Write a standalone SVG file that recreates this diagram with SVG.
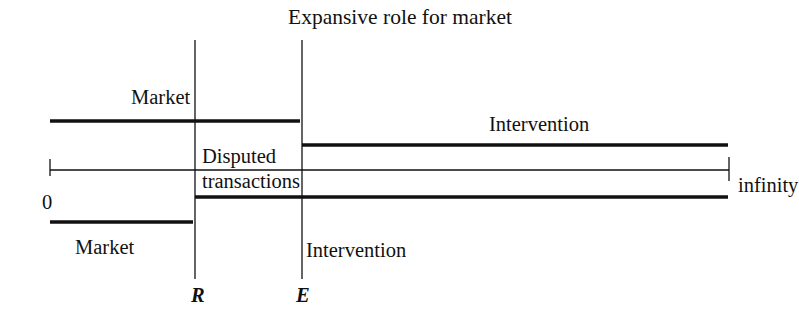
<svg xmlns="http://www.w3.org/2000/svg" width="799" height="328" viewBox="0 0 799 328">
<style>
text{font-family:"Liberation Serif","Times New Roman","DejaVu Serif",serif;font-size:20.5px;fill:#111}
.title{font-size:21.5px}
.thin{stroke:#111;stroke-width:1.3;fill:none}
.thick{stroke:#111;stroke-width:3.5;fill:none}
.it{font-style:italic;font-weight:bold}
</style>
<rect width="799" height="328" fill="#fff"/>
<text class="title" x="400" y="24" text-anchor="middle">Expansive role for market</text>
<g id="connectors">
<line class="thin" x1="195" y1="40" x2="195" y2="279"/>
<line class="thin" x1="302" y1="40" x2="302" y2="279"/>
<line class="thin" x1="50" y1="170" x2="729" y2="170"/>
<line class="thin" x1="50" y1="159" x2="50" y2="176"/>
<line class="thin" x1="729" y1="157" x2="729" y2="181"/>
<line class="thick" x1="50" y1="121" x2="300" y2="121"/>
<line class="thick" x1="302" y1="145" x2="728" y2="145"/>
<line class="thick" x1="195" y1="197" x2="728" y2="197"/>
<line class="thick" x1="50" y1="222" x2="193" y2="222"/>
</g>
<g id="market-upper"><text x="131" y="104">Market</text></g>
<g id="intervention-upper"><text x="489" y="131">Intervention</text></g>
<g id="disputed"><text x="202" y="163">Disputed</text><text x="202" y="188">transactions</text></g>
<g id="infinity"><text x="738" y="192">infinity</text></g>
<g id="zero"><text x="42" y="209">0</text></g>
<g id="market-lower"><text x="75" y="254">Market</text></g>
<g id="intervention-lower"><text x="306" y="257">Intervention</text></g>
<g id="R"><text class="it" x="191" y="302">R</text></g>
<g id="E"><text class="it" x="296" y="302">E</text></g>
</svg>
